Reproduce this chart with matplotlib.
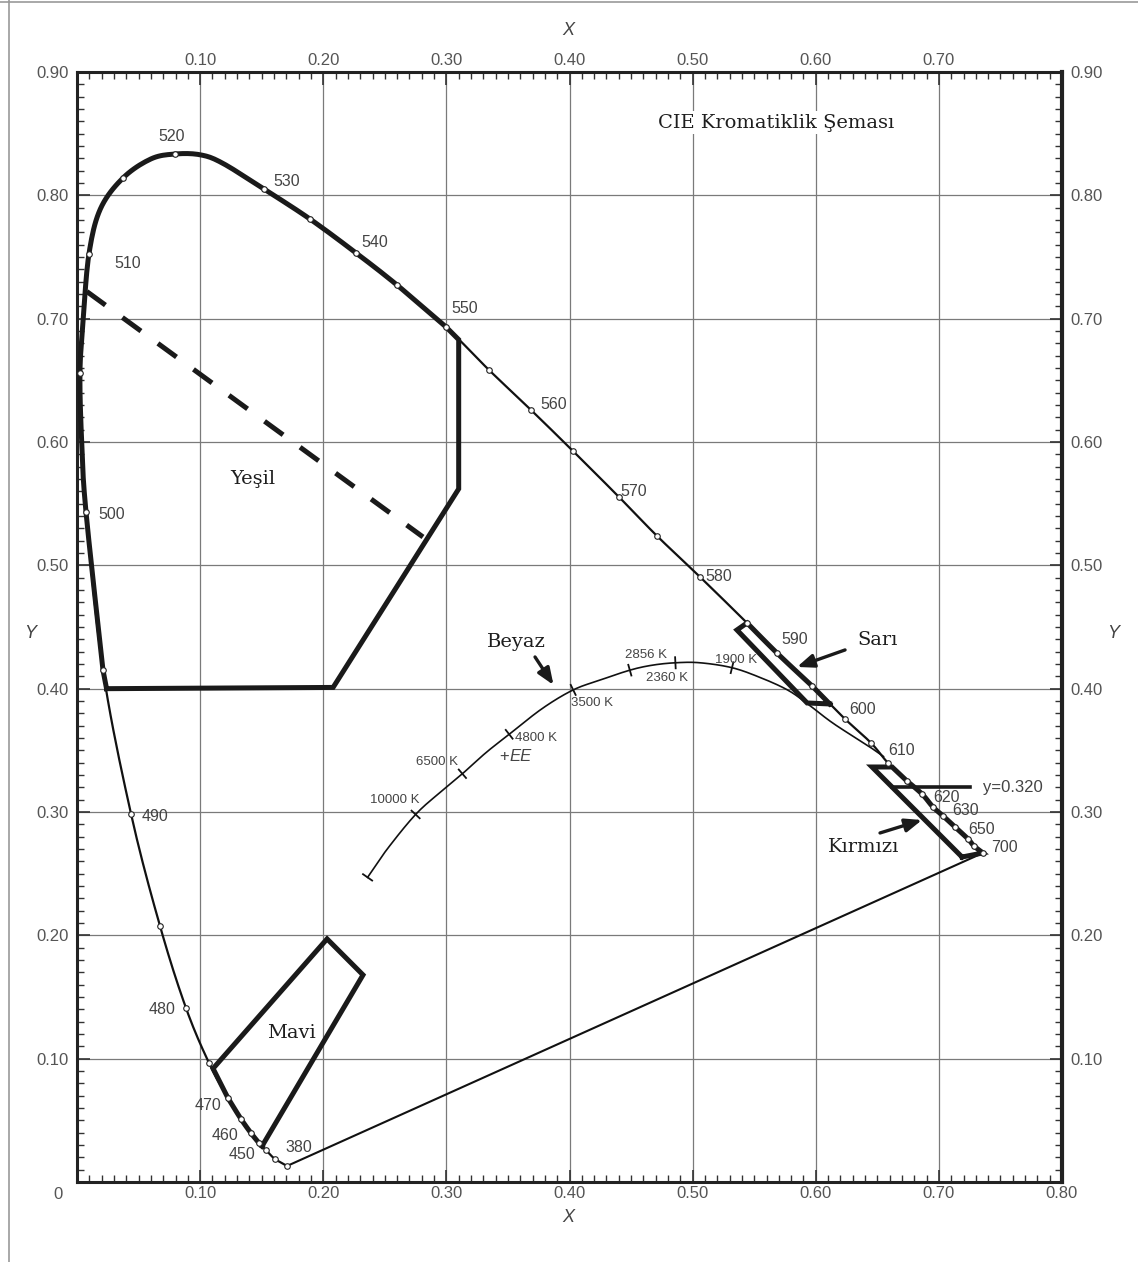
import numpy as np
import matplotlib
matplotlib.use("Agg")
import matplotlib.pyplot as plt
from matplotlib.lines import Line2D

plt.rcParams['font.family'] = ['Liberation Sans', 'DejaVu Sans']

# spectral locus (wavelength in nm)
LOCUS_WL = [380, 440, 450, 455, 460, 465, 470, 475, 480, 485, 490, 495, 500, 502, 505,
            507, 510, 512, 515, 518, 520, 522, 525, 530, 535, 540, 545, 550, 555, 560, 565,
            570, 575, 580, 585, 590, 595, 600, 605, 610, 615, 620, 625, 630, 640, 650,
            660, 700]
LOCUS_X = [0.1706, 0.1608, 0.1535, 0.1478, 0.1413, 0.1332, 0.1226, 0.1072, 0.0885, 0.0674,
           0.0439, 0.0211, 0.0073, 0.0038, 0.0024, 0.0051, 0.0097, 0.0190, 0.0374, 0.0600,
           0.0796, 0.0999, 0.1180, 0.1519, 0.1892, 0.2266, 0.2599, 0.2997, 0.3346, 0.3687,
           0.4028, 0.4402, 0.4711, 0.5060, 0.5442, 0.5685, 0.5970, 0.6238, 0.6449, 0.6587,
           0.6741, 0.6863, 0.6952, 0.7034, 0.7131, 0.7237, 0.7285, 0.7358]
LOCUS_Y = [0.0130, 0.0186, 0.0259, 0.0316, 0.0397, 0.0511, 0.0681, 0.0965, 0.1411, 0.2076,
           0.2984, 0.4151, 0.5433, 0.6000, 0.6560, 0.7000, 0.7524, 0.7890, 0.8141, 0.8295,
           0.8335, 0.8329, 0.8262, 0.8051, 0.7808, 0.7533, 0.7273, 0.6933, 0.6584, 0.6260,
           0.5927, 0.5554, 0.5238, 0.4906, 0.4533, 0.4289, 0.4022, 0.3754, 0.3560, 0.3397,
           0.3251, 0.3146, 0.3041, 0.2968, 0.2879, 0.2781, 0.2725, 0.2668]
UNMARKED_WL = [502, 507, 512, 518, 522, 525]
LABELED_WL = [380, 450, 460, 470, 480, 490, 500, 510, 520, 530, 540, 550, 560, 570, 580,
              590, 600, 610, 620, 630, 650, 700]

# Planckian locus trace and its temperature ticks
PLANCK_X = [0.236, 0.252, 0.275, 0.295, 0.313, 0.332, 0.351, 0.378, 0.403, 0.425, 0.449,
            0.467, 0.486, 0.506, 0.532, 0.555, 0.577, 0.593, 0.614, 0.642, 0.655]
PLANCK_Y = [0.247, 0.270, 0.298, 0.316, 0.331, 0.348, 0.363, 0.384, 0.399, 0.407, 0.415,
            0.419, 0.421, 0.421, 0.417, 0.409, 0.399, 0.388, 0.372, 0.354, 0.345]
CCT_NAMES = ["", "10000 K", "6500 K", "4800 K", "3500 K", "2856 K", "2360 K", "1900 K"]
CCT_INDEX = [0, 2, 4, 6, 8, 10, 12, 14]

# colour regions: corner points, plus the locus stretch they follow
YESIL_X = [0.024, 0.208, 0.310, 0.310]
YESIL_Y = [0.400, 0.401, 0.562, 0.683]
YESIL_WL = (495, 550)
MAVI_X = [0.1503, 0.2323, 0.2031, 0.1105]
MAVI_Y = [0.0291, 0.1679, 0.1971, 0.0920]
MAVI_WL = (455, 470)
SARI_X = [0.6114, 0.593, 0.536]
SARI_Y = [0.3876, 0.3884, 0.4476]
SARI_WL = (585, 595)
KIRMIZI_X = [0.7188, 0.6457, 0.662]
KIRMIZI_Y = [0.2635, 0.3365, 0.3365]
KIRMIZI_WL = (615, 700)
DASH_X = [0.008, 0.281]
DASH_Y = [0.722, 0.523]
Y320_X = [0.6622, 0.7253]
Y320 = 0.320

wl = np.array(LOCUS_WL)
lx = np.array(LOCUS_X)
ly = np.array(LOCUS_Y)


def smooth(xs, ys, n=10):
    # catmull-rom path through the read points, only for drawing
    p = np.column_stack([xs, ys])
    if len(p) < 3:
        return list(p[:, 0]), list(p[:, 1])
    p = np.vstack([p[0], p, p[-1]])
    t = np.linspace(0, 1, n, endpoint=False)[:, None]
    out = []
    for i in range(1, len(p) - 2):
        p0, p1, p2, p3 = p[i - 1], p[i], p[i + 1], p[i + 2]
        out.append(0.5 * (2 * p1 + (p2 - p0) * t + (2 * p0 - 5 * p1 + 4 * p2 - p3) * t ** 2
                          + (3 * p1 - p0 - 3 * p2 + p3) * t ** 3))
    out.append(p[-2][None])
    out = np.vstack(out)
    return list(out[:, 0]), list(out[:, 1])


def locus_part(lo, hi, reverse=False):
    m = (wl >= lo) & (wl <= hi)
    xs, ys = list(lx[m]), list(ly[m])
    if reverse:
        xs, ys = xs[::-1], ys[::-1]
    return smooth(xs, ys)


fig = plt.figure(figsize=(11.38, 12.62), dpi=100)
ax = fig.add_axes([77 / 1138, 80 / 1262, 985 / 1138, 1110 / 1262])
ax.set_xlim(0, 0.8)
ax.set_ylim(0, 0.9)

# grid
for g in np.arange(0.1, 0.75, 0.1):
    ax.axvline(g, color="#7a7a7a", lw=0.9, zorder=0)
for g in np.arange(0.1, 0.85, 0.1):
    ax.axhline(g, color="#7a7a7a", lw=0.9, zorder=0)

# ticks
ax.set_xticks(np.arange(0.1, 0.81, 0.1))
ax.set_xticklabels([f"{v:.2f}" for v in np.arange(0.1, 0.81, 0.1)])
ax.set_yticks(np.arange(0.1, 0.91, 0.1))
ax.set_yticklabels([f"{v:.2f}" for v in np.arange(0.1, 0.91, 0.1)])
ax.set_xticks(np.arange(0, 0.801, 0.01), minor=True)
ax.set_yticks(np.arange(0, 0.901, 0.01), minor=True)
ax.tick_params(which="both", direction="in", top=True, right=True, labeltop=True,
               labelright=True, colors="#333333", labelcolor="#555555", labelsize=12)
ax.tick_params(which="major", length=9, width=1.2)
ax.tick_params(which="minor", length=5, width=1.0)
ax.tick_params(axis="x", which="major", pad=3)
ax.tick_params(axis="y", which="major", pad=6)
ax.xaxis.get_major_ticks()[-1].label2.set_visible(False)
for sp in ax.spines.values():
    sp.set_linewidth(2.2)
    sp.set_color("#222222")
ax.spines["right"].set_linewidth(3.0)

# spectral locus and line of purples
sx, sy = smooth(LOCUS_X, LOCUS_Y)
ax.plot(sx, sy, color="#111111", lw=1.6, zorder=3)
ax.plot([LOCUS_X[0], LOCUS_X[-1]], [LOCUS_Y[0], LOCUS_Y[-1]], color="#111111", lw=1.5, zorder=3)

# thick region outlines
reg_kw = dict(color="#1a1a1a", lw=3.6, solid_joinstyle="miter", zorder=4)
xs, ys = locus_part(*YESIL_WL, reverse=True)
ax.plot(YESIL_X + xs + [YESIL_X[0]], YESIL_Y + ys + [YESIL_Y[0]], **reg_kw)
xs, ys = locus_part(*MAVI_WL, reverse=True)
ax.plot(MAVI_X + xs + [MAVI_X[0]], MAVI_Y + ys + [MAVI_Y[0]], **reg_kw)
xs, ys = locus_part(*SARI_WL)
ax.plot(SARI_X + xs + [SARI_X[0]], SARI_Y + ys + [SARI_Y[0]], **reg_kw)
xs, ys = locus_part(*KIRMIZI_WL)
ax.plot(KIRMIZI_X + xs + [KIRMIZI_X[0]], KIRMIZI_Y + ys + [KIRMIZI_Y[0]], **reg_kw)
ax.plot(DASH_X, DASH_Y, color="#1a1a1a", lw=3.6, dashes=(4.6, 4.2),
        dash_capstyle="butt", zorder=4)
ax.plot(Y320_X, [Y320, Y320], color="#1a1a1a", lw=2.6, zorder=4)

# locus markers
mk = ~np.isin(wl, UNMARKED_WL)
ax.plot(lx[mk], ly[mk], ls="none", marker="o", ms=4, mfc="white", mec="#222222",
        mew=0.8, zorder=6)

# Planckian locus with tick marks
plx, ply = smooth(PLANCK_X, PLANCK_Y)
ax.plot(plx, ply, color="#111111", lw=1.2, zorder=3)
px, py = np.array(PLANCK_X), np.array(PLANCK_Y)
for i in CCT_INDEX:
    a = max(i - 1, 0)
    b = min(i + 1, len(px) - 1)
    dx, dy = px[b] - px[a], py[b] - py[a]
    n = np.hypot(dx, dy)
    nx, ny = -dy / n * 0.0045, dx / n * 0.0045
    ax.plot([px[i] - nx, px[i] + nx], [py[i] - ny, py[i] + ny], color="#111111", lw=1.3, zorder=3)

# wavelength labels
wl_pos = {380: (0.180, 0.0276), 450: (0.134, 0.0227), 460: (0.120, 0.038), 470: (0.106, 0.0624),
          480: (0.069, 0.1395), 490: (0.063, 0.296), 500: (0.028, 0.541), 510: (0.041, 0.745),
          520: (0.077, 0.848), 530: (0.170, 0.811), 540: (0.242, 0.762), 550: (0.315, 0.708),
          560: (0.387, 0.630), 570: (0.452, 0.560), 580: (0.521, 0.491), 590: (0.583, 0.440),
          600: (0.638, 0.383), 610: (0.670, 0.3496), 620: (0.706, 0.312), 630: (0.722, 0.301),
          650: (0.735, 0.286), 700: (0.753, 0.271)}
for w in LABELED_WL:
    x, y = wl_pos[w]
    ax.text(x, y, str(w), fontsize=11.5, color="#444444", ha="center", va="center", zorder=7)

cct_pos = [None, (0.258, 0.310), (0.292, 0.3406), (0.373, 0.360), (0.418, 0.3885),
           (0.462, 0.427), (0.479, 0.409), (0.535, 0.423)]
for name, pos in zip(CCT_NAMES, cct_pos):
    if pos is None:
        continue
    ax.text(pos[0], pos[1], name, fontsize=9.5, color="#444444", ha="center", va="center", zorder=7)

ax.text(0.351, 0.3447, "+", fontsize=12, color="#444444", ha="right", va="center")
ax.text(0.351, 0.3447, "EE", fontsize=12, color="#444444", ha="left", va="center", style="italic")

# region names
serif = dict(family="DejaVu Serif", color="#1e1e1e", ha="center", va="center", fontsize=14)
ax.text(0.568, 0.859, "CIE Kromatiklik Şeması", zorder=8,
        bbox=dict(facecolor="white", edgecolor="none", pad=2), **serif)
ax.text(0.143, 0.570, "Yeşil", **serif)
ax.text(0.174, 0.121, "Mavi", **serif)
ax.text(0.357, 0.438, "Beyaz", **serif)
ax.text(0.650, 0.4395, "Sarı", **serif)
ax.text(0.639, 0.2716, "Kırmızı", **serif)
ax.text(0.736, Y320, "y=0.320", fontsize=12, color="#444444", ha="left", va="center",
        bbox=dict(facecolor="white", edgecolor="none", pad=1))

arr = dict(arrowstyle="-|>,head_length=1.0,head_width=0.4", color="#1a1a1a", lw=2.4,
           shrinkA=0, shrinkB=0)
ax.annotate("", xy=(0.387, 0.403), xytext=(0.372, 0.4257), arrowprops=arr, zorder=8)
ax.annotate("", xy=(0.5848, 0.4176), xytext=(0.6238, 0.4314), arrowprops=arr, zorder=8)
ax.annotate("", xy=(0.6863, 0.2935), xytext=(0.6522, 0.2830), arrowprops=arr, zorder=8)

# axis names and corner zero
ax.text(-0.0154, -0.0105, "0", fontsize=12, color="#555555", ha="center", va="center", clip_on=False)
ax.text(0.3988, 0.934, "X", fontsize=13, color="#444444", style="italic", ha="center", va="center")
ax.text(0.3988, -0.029, "X", fontsize=13, color="#444444", style="italic", ha="center", va="center")
ax.text(-0.038, 0.445, "Y", fontsize=13, color="#444444", style="italic", ha="center", va="center")
ax.text(0.8415, 0.445, "Y", fontsize=13, color="#444444", style="italic", ha="center", va="center")

# outer frame lines of the page
fig.add_artist(Line2D([0, 1], [1 - 1.5 / 1262, 1 - 1.5 / 1262], color="#999999", lw=1.2))
fig.add_artist(Line2D([8.5 / 1138, 8.5 / 1138], [0, 1], color="#999999", lw=1.2))

fig.savefig("out.png", dpi=100, facecolor="white")
